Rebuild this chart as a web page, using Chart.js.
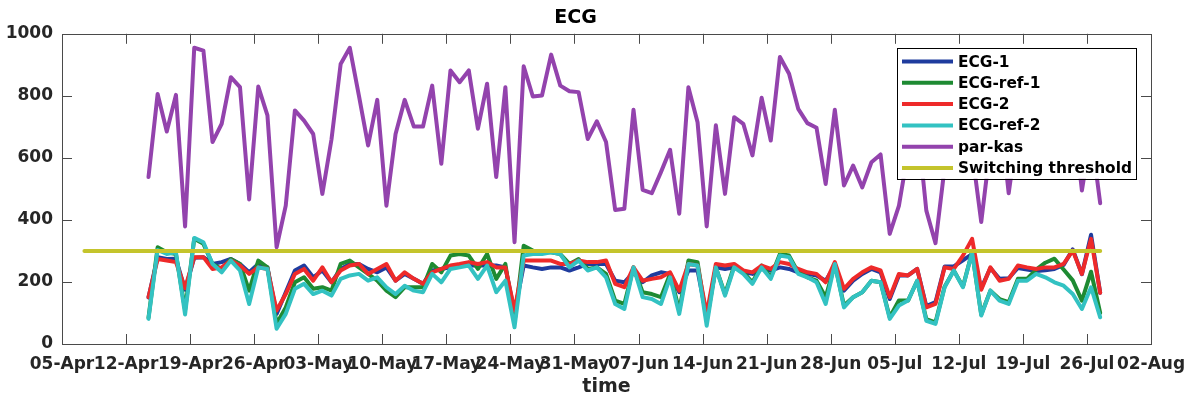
<!DOCTYPE html>
<html>
<head>
<meta charset="utf-8">
<title>ECG</title>
<script src="https://cdn.jsdelivr.net/npm/chart.js@4.4.1/dist/chart.umd.min.js"></script>
<style>
  html, body { margin: 0; padding: 0; background: #ffffff; }
  #wrap { width: 1188px; height: 400px; }
</style>
</head>
<body>
<div id="wrap"><canvas id="chart" width="1188" height="400"></canvas></div>
<script>
// Week labels along the time axis (day 0 = 05-Apr, one label every 7 days)
const tickLabels = ['05-Apr', '12-Apr', '19-Apr', '26-Apr', '03-May', '10-May', '17-May', '24-May', '31-May',
  '07-Jun', '14-Jun', '21-Jun', '28-Jun', '05-Jul', '12-Jul', '19-Jul', '26-Jul', '02-Aug'];

// Daily samples, first one on 14-Apr (days after 05-Apr)
const sampleStart = 9.45;

const ecg1 = [150, 280, 274, 275, 175, 278, 280, 258, 264, 274, 258, 231, 258, 247, 97, 167, 237, 253, 215, 237,
  199, 242, 258, 258, 242, 231, 247, 204, 226, 210, 194, 237, 242, 247, 253, 253, 253, 253, 253, 247,
  102, 253, 247, 242, 247, 247, 237, 247, 258, 258, 258, 204, 199, 231, 199, 221, 231, 226, 167, 237,
  237, 86, 247, 242, 247, 231, 226, 242, 237, 247, 242, 231, 226, 221, 204, 253, 172, 204, 226, 242,
  231, 145, 221, 221, 242, 122, 135, 250, 250, 270, 290, 180, 245, 210, 212, 245, 240, 235, 238, 242,
  255, 305, 225, 352, 165];

const ecgRef1 = [85, 312, 296, 290, 110, 339, 323, 258, 242, 274, 258, 172, 269, 247, 65, 118, 199, 215, 178, 183,
  172, 258, 269, 247, 226, 204, 172, 151, 183, 183, 183, 258, 231, 285, 290, 285, 242, 290, 210, 258,
  70, 317, 301, 296, 296, 290, 258, 274, 242, 247, 226, 140, 129, 247, 167, 161, 151, 226, 108, 269,
  264, 75, 247, 161, 253, 231, 199, 253, 215, 290, 285, 231, 215, 204, 151, 258, 124, 151, 167, 204,
  199, 86, 140, 140, 204, 80, 70, 185, 237, 185, 296, 95, 172, 145, 135, 210, 210, 240, 262, 275,
  240, 205, 140, 233, 100];

const ecg2 = [151, 274, 269, 264, 180, 280, 280, 242, 247, 269, 253, 226, 247, 242, 108, 161, 226, 242, 204, 247,
  199, 237, 253, 258, 226, 242, 258, 204, 231, 210, 194, 231, 242, 253, 258, 264, 258, 264, 247, 247,
  108, 269, 269, 269, 269, 258, 258, 269, 264, 264, 269, 194, 183, 247, 204, 210, 215, 231, 172, 258,
  253, 97, 258, 253, 258, 237, 231, 253, 242, 264, 258, 242, 231, 226, 199, 264, 178, 210, 231, 247,
  237, 151, 226, 221, 242, 118, 129, 247, 242, 285, 339, 175, 247, 204, 210, 253, 247, 242, 247, 247,
  258, 301, 226, 339, 165];

const ecgRef2 = [81, 303, 290, 296, 95, 342, 328, 258, 231, 269, 237, 129, 247, 242, 49, 97, 178, 194, 161, 172,
  156, 210, 221, 226, 204, 215, 183, 161, 188, 172, 167, 226, 199, 242, 247, 253, 210, 253, 167, 204,
  54, 285, 290, 290, 296, 290, 247, 269, 237, 247, 215, 129, 113, 247, 151, 145, 129, 215, 97, 258,
  253, 59, 247, 156, 247, 226, 194, 247, 210, 285, 280, 226, 215, 199, 129, 258, 118, 151, 167, 204,
  199, 81, 124, 140, 204, 75, 65, 183, 237, 183, 296, 92, 172, 140, 129, 204, 204, 226, 215, 199,
  188, 161, 113, 183, 86];

const parKas = [538, 806, 685, 803, 379, 955, 946, 651, 710, 860, 828, 466, 830, 737, 312, 446, 753, 720, 677, 484,
  660, 903, 955, 800, 640, 787, 446, 677, 787, 701, 701, 833, 581, 882, 844, 882, 694, 839, 538, 828,
  328, 895, 798, 801, 933, 833, 815, 812, 661, 718, 651, 432, 436, 755, 497, 486, 554, 626, 420, 828,
  715, 379, 705, 484, 731, 710, 608, 794, 656, 925, 871, 758, 712, 697, 516, 755, 511, 575, 505, 586,
  611, 355, 445, 620, 720, 430, 325, 570, 780, 690, 620, 393, 640, 760, 486, 700, 820, 760, 650, 720,
  850, 760, 495, 680, 454];

// Switching threshold, drawn from one week before the first sample to the last one
const threshold = 300;

const seriesNames = ['ECG-1', 'ECG-ref-1', 'ECG-2', 'ECG-ref-2', 'par-kas', 'Switching threshold'];
const seriesColors = ['#1f3c9e', '#1e8a32', '#ee2a2a', '#33c2c2', '#9343ad', '#c4c42c'];

const toPoints = (values) => values.map((v, i) => ({ x: sampleStart + i, y: v }));
const lastDay = sampleStart + parKas.length - 1;
const thresholdPoints = [{ x: sampleStart - 7, y: threshold }, { x: lastDay, y: threshold }];

const seriesValues = [ecg1, ecgRef1, ecg2, ecgRef2, parKas];
const datasets = seriesValues.map((vals, i) => ({
  label: seriesNames[i],
  data: toPoints(vals),
  borderColor: seriesColors[i],
  backgroundColor: seriesColors[i],
  order: seriesNames.length - 1 - i
}));
datasets.push({
  label: seriesNames[5],
  data: thresholdPoints,
  borderColor: seriesColors[5],
  backgroundColor: seriesColors[5],
  order: 0
});

const FONT = "'DejaVu Sans', 'Liberation Sans', sans-serif";
const INK = '#262626';

// Axes box with inward tick marks on all four sides
const axesBox = {
  id: 'axesBox',
  beforeDatasetsDraw(chart) {
    const { ctx, chartArea: a, scales } = chart;
    const len = 10;
    ctx.save();
    ctx.strokeStyle = '#4a4a4a';
    ctx.lineWidth = 1;
    ctx.beginPath();
    scales.x.ticks.forEach(t => {
      const px = Math.round(scales.x.getPixelForValue(t.value)) + 0.5;
      if (px <= a.left + 1 || px >= a.right - 1) return;
      ctx.moveTo(px, a.bottom); ctx.lineTo(px, a.bottom - len);
      ctx.moveTo(px, a.top); ctx.lineTo(px, a.top + len);
    });
    scales.y.ticks.forEach(t => {
      const py = Math.round(scales.y.getPixelForValue(t.value)) + 0.5;
      if (py <= a.top + 1 || py >= a.bottom - 1) return;
      ctx.moveTo(a.left, py); ctx.lineTo(a.left + len, py);
      ctx.moveTo(a.right, py); ctx.lineTo(a.right - len, py);
    });
    ctx.stroke();
    ctx.strokeRect(Math.round(a.left) + 0.5, Math.round(a.top) + 0.5,
      Math.round(a.right - a.left), Math.round(a.bottom - a.top));
    ctx.restore();
  }
};

// Boxed legend in the upper right corner of the plot
const insetLegend = {
  id: 'insetLegend',
  afterDraw(chart) {
    const { ctx, chartArea: a } = chart;
    const w = 239, h = 131, rowH = 21.3;
    const left = a.right - 15 - w, top = a.top + 14;
    ctx.save();
    ctx.fillStyle = '#ffffff';
    ctx.fillRect(left, top, w, h);
    ctx.strokeStyle = '#000000';
    ctx.lineWidth = 1;
    ctx.strokeRect(Math.round(left) + 0.5, Math.round(top) + 0.5, w, h);
    ctx.font = 'bold 15.4px ' + FONT;
    ctx.textBaseline = 'middle';
    ctx.textAlign = 'left';
    chart.data.datasets.forEach((ds, i) => {
      const cy = top + 13.7 + i * rowH;
      ctx.strokeStyle = ds.borderColor;
      ctx.lineWidth = 4;
      ctx.beginPath();
      ctx.moveTo(left + 5, cy); ctx.lineTo(left + 56, cy);
      ctx.stroke();
      ctx.fillStyle = '#000000';
      ctx.fillText(ds.label, left + 61, cy + 1);
    });
    ctx.restore();
  }
};

new Chart(document.getElementById('chart'), {
  type: 'line',
  data: { datasets },
  options: {
    responsive: false,
    animation: false,
    devicePixelRatio: 1,
    layout: { padding: { left: 0, right: 37, top: 0, bottom: 0 } },
    elements: {
      line: { borderWidth: 4, tension: 0, borderCapStyle: 'round', borderJoinStyle: 'round' },
      point: { radius: 0, hoverRadius: 0 }
    },
    plugins: {
      legend: { display: false },
      tooltip: { enabled: false },
      title: {
        display: true,
        text: 'ECG',
        color: '#000000',
        font: { family: FONT, size: 19, weight: 'bold' },
        padding: { top: 7, bottom: 4 }
      }
    },
    scales: {
      x: {
        type: 'linear',
        min: 0,
        max: 119,
        grid: { display: false, drawTicks: true, tickLength: 8 },
        border: { display: false },
        ticks: {
          stepSize: 7,
          autoSkip: false,
          maxRotation: 0,
          minRotation: 0,
          padding: 2,
          color: INK,
          font: { family: FONT, size: 17, weight: 'bold' },
          callback: (v) => tickLabels[Math.round(v / 7)]
        },
        title: {
          display: true,
          text: 'time',
          color: INK,
          font: { family: FONT, size: 19, weight: 'bold' },
          padding: { top: 0, bottom: 2 }
        },
        afterFit: (s) => { s.height = 56; }
      },
      y: {
        min: 0,
        max: 1000,
        grid: { display: false, drawTicks: false },
        border: { display: false },
        ticks: {
          stepSize: 200,
          padding: 9,
          color: INK,
          font: { family: FONT, size: 17, weight: 'bold' },
          callback: (v) => String(v)
        },
        afterFit: (s) => { s.width = 62; }
      }
    }
  },
  plugins: [axesBox, insetLegend]
});
</script>
</body>
</html>
